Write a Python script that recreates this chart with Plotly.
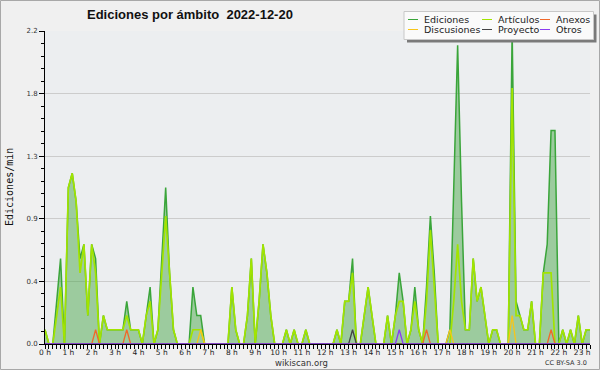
import plotly.graph_objects as go

# ---------------- data (10-minute bins, edits per minute) ----------------
minutes = list(range(0, 1410, 10))          # 00:00 .. 23:20
hour_ticks = list(range(24))
hour_labels = [f"{h} h" for h in hour_ticks]

ediciones = [
    0.1, 0, 0, 0.3, 0.6, 0,          # 0 h
    1.1, 1.2, 1.0, 0.6, 0.7, 0.2,    # 1 h
    0.7, 0.6, 0, 0.2, 0.1, 0.1,      # 2 h
    0.1, 0.1, 0.1, 0.3, 0.1, 0.1,    # 3 h
    0.1, 0, 0.2, 0.4, 0, 0.1,        # 4 h
    0.6, 1.1, 0.5, 0.1, 0, 0,        # 5 h
    0, 0, 0.4, 0.2, 0.2, 0,          # 6 h
    0, 0, 0, 0, 0, 0,                # 7 h
    0.4, 0.1, 0, 0, 0.2, 0.6,        # 8 h
    0, 0.3, 0.7, 0.5, 0.2, 0,        # 9 h
    0, 0, 0.1, 0, 0.1, 0,            # 10 h
    0, 0.1, 0, 0, 0, 0,              # 11 h
    0, 0, 0, 0.1, 0, 0.3,            # 12 h
    0.3, 0.6, 0, 0, 0.2, 0.4,        # 13 h
    0.2, 0, 0, 0, 0.2, 0,            # 14 h
    0.2, 0.5, 0.3, 0, 0.1, 0.4,      # 15 h
    0.1, 0, 0.4, 0.9, 0.5, 0,        # 16 h
    0, 0, 0.1, 1.1, 2.1, 1.0,        # 17 h
    0.1, 0.1, 0.6, 0.3, 0.4, 0.2,    # 18 h
    0, 0.1, 0.1, 0, 0, 0,            # 19 h
    2.2, 0.3, 0.2, 0.1, 0.1, 0.3,    # 20 h
    0, 0, 0.5, 0.7, 1.5, 1.5,        # 21 h
    0, 0.1, 0, 0.1, 0, 0.2,          # 22 h
    0, 0.1, 0.1,                     # 23 h
]

articulos = [
    0.1, 0, 0, 0.2, 0.4, 0,
    1.1, 1.2, 1.0, 0.5, 0.7, 0.2,
    0.7, 0.5, 0, 0.2, 0.1, 0.1,
    0.1, 0.1, 0.1, 0.2, 0.1, 0.1,
    0.1, 0, 0.2, 0.3, 0, 0.1,
    0.5, 0.9, 0.5, 0.1, 0, 0,
    0, 0, 0.1, 0.1, 0.1, 0,
    0, 0, 0, 0, 0, 0,
    0.4, 0.1, 0, 0, 0.2, 0.6,
    0, 0.3, 0.7, 0.5, 0.2, 0,
    0, 0, 0.1, 0, 0.1, 0,
    0, 0.1, 0, 0, 0, 0,
    0, 0, 0, 0.1, 0, 0.3,
    0.3, 0.5, 0, 0, 0.2, 0.4,
    0.2, 0, 0, 0, 0.2, 0,
    0.2, 0.3, 0.3, 0, 0.1, 0.3,
    0.1, 0, 0.3, 0.8, 0.4, 0,
    0, 0, 0, 0.3, 0.7, 0.3,
    0.1, 0.1, 0.6, 0.3, 0.4, 0.2,
    0, 0.1, 0.1, 0, 0, 0,
    1.8, 0.2, 0.2, 0.1, 0.1, 0.3,
    0, 0, 0.5, 0.5, 0.5, 0,
    0, 0.1, 0, 0.1, 0, 0.2,
    0, 0.1, 0.1,
]

# sparse series: times with non-zero values (all other bins are 0)
anexos_t = ["02:10", "03:30", "16:20", "21:40"]
anexos_v = [0.1, 0.1, 0.1, 0.1]
discusiones_t = ["06:40", "17:20", "20:00"]
discusiones_v = [0.1, 0.1, 0.2]
proyecto_t = ["13:10"]
proyecto_v = [0.1]
otros_t = ["15:10"]
otros_v = [0.1]

y_tickvals = [0, 0.44, 0.88, 1.32, 1.76, 2.2]
y_ticktext = ["0.0", "0.4", "0.9", "1.3", "1.8", "2.2"]

# ---------------- helpers ----------------
labels = [f"{m // 60:02d}:{m % 60:02d}" for m in minutes]
x_hours = [m / 60 for m in minutes]


def expand(times, vals):
    d = dict(zip(times, vals))
    return [d.get(lb, 0) for lb in labels]


W, H = 600, 370
L, R, T, B = 45, 10, 31, 26
PW, PH = W - L - R, H - T - B


def px(x):
    return (x - L) / PW


def py(y):
    return (H - B - y) / PH


C_ED = "#3aa53a"
C_ART = "#a2e400"
C_ANX = "#f0682a"
C_DIS = "#f7c51a"
C_PRO = "#444444"
C_OTR = "#8a3cf0"

fig = go.Figure()
fig.add_trace(go.Scatter(x=x_hours, y=ediciones, mode="lines", name="Ediciones",
                         line=dict(color=C_ED, width=1.5), fill="tozeroy",
                         fillcolor="rgba(70,165,70,0.48)", hoverinfo="skip"))
fig.add_trace(go.Scatter(x=x_hours, y=articulos, mode="lines", name="Artículos",
                         line=dict(color=C_ART, width=1.7), hoverinfo="skip"))
fig.add_trace(go.Scatter(x=x_hours, y=expand(anexos_t, anexos_v), mode="lines", name="Anexos",
                         line=dict(color=C_ANX, width=1.3), hoverinfo="skip"))
fig.add_trace(go.Scatter(x=x_hours, y=expand(discusiones_t, discusiones_v), mode="lines",
                         name="Discusiones", line=dict(color=C_DIS, width=1.3), hoverinfo="skip"))
fig.add_trace(go.Scatter(x=x_hours, y=expand(proyecto_t, proyecto_v), mode="lines", name="Proyecto",
                         line=dict(color=C_PRO, width=1.3), hoverinfo="skip"))
fig.add_trace(go.Scatter(x=x_hours, y=expand(otros_t, otros_v), mode="lines", name="Otros",
                         line=dict(color=C_OTR, width=1.3), hoverinfo="skip"))

shapes = []
annotations = []

# outer border
shapes.append(dict(type="rect", xref="paper", yref="paper", x0=px(0.5), x1=px(599.5),
                   y0=py(0.5), y1=py(369.5), line=dict(color="#a8a8a8", width=1), layer="below"))

# legend (box + shadow + samples + texts)
shapes.append(dict(type="rect", xref="paper", yref="paper", x0=px(407), x1=px(596.5),
                   y0=py(14.5), y1=py(42.5), fillcolor="#7a7a7a", line=dict(width=0)))
shapes.append(dict(type="rect", xref="paper", yref="paper", x0=px(404), x1=px(593.5),
                   y0=py(11.5), y1=py(39.5), fillcolor="#fafafa",
                   line=dict(color="#c8c8c8", width=1)))
legend_items = [
    ("Ediciones", C_ED, 408, 422, 19.5),
    ("Artículos", C_ART, 482, 496, 19.5),
    ("Anexos", C_ANX, 540, 554, 19.5),
    ("Discusiones", C_DIS, 408, 422, 29.5),
    ("Proyecto", C_PRO, 482, 496, 29.5),
    ("Otros", C_OTR, 540, 554, 29.5),
]
for name, col, lx, tx, yy in legend_items:
    shapes.append(dict(type="line", xref="paper", yref="paper", x0=px(lx), x1=px(lx + 10),
                       y0=py(yy), y1=py(yy), line=dict(color=col, width=1)))
    annotations.append(dict(text=name, xref="paper", yref="paper", x=px(tx), y=py(yy),
                            xanchor="left", yanchor="middle", showarrow=False,
                            font=dict(family="DejaVu Sans", size=9.5, color="#222")))

# title
annotations.append(dict(text="<b>Ediciones por ámbito  2022-12-20</b>", xref="paper", yref="paper",
                        x=px(85), y=py(14), xanchor="left", yanchor="middle", showarrow=False,
                        font=dict(family="Liberation Sans", size=13, color="#111")))
# y-axis title
annotations.append(dict(text="Ediciones/min", xref="paper", yref="paper", x=px(9.5), y=py(187.5),
                        xanchor="center", yanchor="middle", textangle=-90, showarrow=False,
                        font=dict(family="DejaVu Sans Mono", size=10, color="#111")))
# footers
annotations.append(dict(text="wikiscan.org", xref="paper", yref="paper", x=px(301), y=py(362.5),
                        xanchor="center", yanchor="middle", showarrow=False,
                        font=dict(family="DejaVu Sans", size=8.5, color="#333")))
annotations.append(dict(text="CC BY-SA 3.0", xref="paper", yref="paper", x=px(589), y=py(363),
                        xanchor="right", yanchor="middle", showarrow=False,
                        font=dict(family="DejaVu Sans", size=6.5, color="#333")))

fig.update_layout(
    width=W, height=H,
    margin=dict(l=L, r=R, t=T, b=B, pad=0),
    paper_bgcolor="#f0f0f0",
    plot_bgcolor="#eceef0",
    showlegend=False,
    shapes=shapes,
    annotations=annotations,
    xaxis=dict(range=[0, minutes[-1] / 60], tickmode="array", tickvals=hour_ticks,
               ticktext=hour_labels, ticks="outside", ticklen=4, tickcolor="black",
               tickwidth=1, showline=True, linecolor="black", linewidth=1,
               showgrid=False, zeroline=False, fixedrange=True, ticklabelstandoff=-3,
               tickfont=dict(family="DejaVu Sans", size=7.5, color="#222"),
               minor=dict(dtick=1 / 6, tick0=0, ticks="outside", ticklen=4,
                          tickcolor="black", tickwidth=1, showgrid=False)),
    yaxis=dict(range=[0, 2.2], tickmode="array", tickvals=y_tickvals, ticktext=y_ticktext,
               ticks="outside", ticklen=5, tickcolor="black", tickwidth=1,
               showline=True, linecolor="black", linewidth=1, zeroline=False,
               showgrid=True, gridcolor="#cccccc", gridwidth=1, fixedrange=True,
               tickfont=dict(family="DejaVu Sans", size=7, color="#333"),
               minor=dict(dtick=0.088, tick0=0, ticks="outside", ticklen=3,
                          tickcolor="black", tickwidth=1, showgrid=False)),
)

fig.write_html("out.html", config={"displayModeBar": False},
               post_script="document.body.style.margin='0';document.body.style.padding='0';")
